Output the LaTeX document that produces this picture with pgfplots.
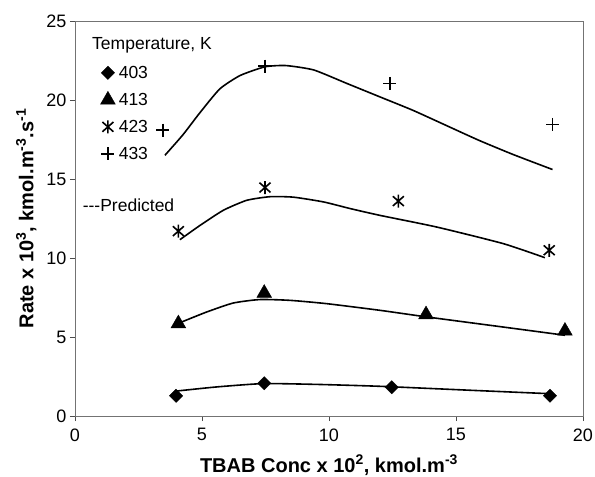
\documentclass[border=0pt]{standalone}
\usepackage{pgfplots}
\pgfplotsset{compat=1.18}
\usepackage{fontspec}
\setmainfont{Liberation Sans}

% Excel-style star: a vertical stroke crossed by an X
\pgfdeclareplotmark{xstar}{%
  \pgfpathmoveto{\pgfqpoint{0pt}{-\pgfplotmarksize}}%
  \pgfpathlineto{\pgfqpoint{0pt}{\pgfplotmarksize}}%
  \pgfpathmoveto{\pgfqpoint{-.85\pgfplotmarksize}{-.75\pgfplotmarksize}}%
  \pgfpathlineto{\pgfqpoint{.85\pgfplotmarksize}{.75\pgfplotmarksize}}%
  \pgfpathmoveto{\pgfqpoint{-.85\pgfplotmarksize}{.75\pgfplotmarksize}}%
  \pgfpathlineto{\pgfqpoint{.85\pgfplotmarksize}{-.75\pgfplotmarksize}}%
  \pgfusepathqstroke}

\begin{document}
\begin{tikzpicture}
\path[use as bounding box] (-75pt,-61pt) rectangle (520pt,416pt);
\begin{axis}[
  scale only axis,
  width=508pt, height=395pt,
  xmin=0, xmax=20, ymin=0, ymax=25,
  xtick={0,5,...,20}, ytick={0,5,...,25},
  axis line style={draw=black!55, line width=0.9pt},
  tick style={black!70, line width=0.9pt},
  tick align=outside,
  major tick length=5pt,
  xtick pos=bottom, ytick pos=left,
  /pgf/number format/assume math mode=true,
  tick label style={font=\fontsize{18}{20}\selectfont},
  xticklabel style={yshift=-4pt},
  xlabel={TBAB Conc x 10\textsuperscript{2}, kmol.m\textsuperscript{-3}},
  ylabel={Rate x 10\textsuperscript{3}, kmol.m\textsuperscript{-3}.s\textsuperscript{-1}},
  label style={font=\fontsize{20}{22}\bfseries},
  xlabel style={yshift=-7pt},
  ylabel style={yshift=3pt},
  legend style={draw=none, fill=none, at={(axis cs:0.88,22.42)}, anchor=north west,
    font=\fontsize{17.5}{19}\selectfont, row sep=9.3pt,
    /tikz/every odd column/.append style={column sep=1.5pt},
    nodes={inner sep=2pt}},
  legend image code/.code={\draw plot coordinates {(0pt,0pt)};},
  legend cell align=left,
]
% measured rates
\addplot[only marks, mark=square*, mark size=4.7pt, mark options={rotate=45, fill=black}]
  coordinates {(3.98,1.28) (7.45,2.07) (12.47,1.82) (18.7,1.28)};
\addlegendentry{403}
\addplot[only marks, mark=triangle*, mark size=8.5pt, mark options={fill=black}]
  coordinates {(4.07,5.85) (7.45,7.78) (13.82,6.42) (19.29,5.38)};
\addlegendentry{413}
\addplot[only marks, mark=xstar, mark size=6.5pt, mark options={line width=1.6pt}]
  coordinates {(4.07,11.7) (7.48,14.46) (12.73,13.6) (18.67,10.49)};
\addlegendentry{423}
\addplot[only marks, mark=+, mark size=6.5pt, mark options={line width=1.5pt}]
  coordinates {(3.46,18.1) (7.48,22.15) (12.4,21.05) (18.8,18.45)};
\addlegendentry{433}

% predicted curves
\addplot[smooth, tension=0.35, line width=1.6pt, forget plot] coordinates {
  (4.0,1.58) (5.58,1.84) (7.41,2.05) (9.51,2.0) (12.0,1.88) (15.55,1.63) (18.57,1.42)};
\addplot[smooth, tension=0.35, line width=1.6pt, forget plot] coordinates {
  (4.2,5.95) (5.18,6.58) (6.23,7.15) (7.28,7.37) (8.46,7.32) (9.91,7.11)
  (12.0,6.69) (13.85,6.27) (16.86,5.63) (19.29,5.11)};
\addplot[smooth, tension=0.35, line width=1.6pt, forget plot] coordinates {
  (4.13,11.16) (4.92,12.06) (5.84,13.02) (6.76,13.65) (7.68,13.88) (8.6,13.85)
  (9.78,13.55) (10.83,13.13) (12.0,12.7) (14.24,11.96) (16.86,10.91) (18.5,10.02)};
\addplot[smooth, tension=0.35, line width=1.6pt, forget plot] coordinates {
  (3.54,16.5) (4.25,17.8) (4.92,19.2) (5.7,20.7) (6.5,21.55) (7.48,22.1)
  (8.3,22.18) (9.4,21.9) (10.7,21.05) (12.0,20.2) (13.3,19.35) (14.6,18.4)
  (15.9,17.45) (17.25,16.55) (18.8,15.6)};

\node[anchor=west, font=\fontsize{17.5}{19}\selectfont, inner sep=0pt] at (axis cs:0.67,23.47) {Temperature, K};
\node[anchor=west, font=\fontsize{17.5}{19}\selectfont, inner sep=0pt] at (axis cs:0.3,13.33) {-{}-{}-Predicted};
\end{axis}
\end{tikzpicture}
\end{document}
